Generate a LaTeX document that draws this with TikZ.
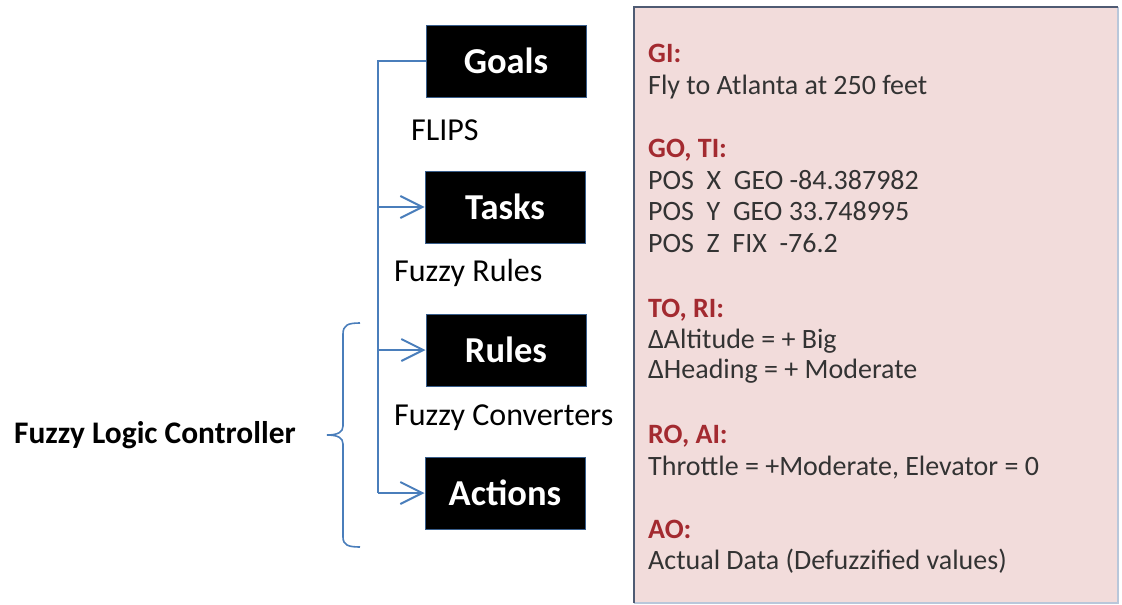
\documentclass[tikz,border=0pt]{standalone}
\usepackage{fontspec}
\setmainfont{Carlito}
\usetikzlibrary{arrows.meta}
\definecolor{flblue}{HTML}{4A7EBB}
\definecolor{boxedge}{HTML}{385D8A}
\definecolor{pinkfill}{HTML}{F2DCDB}
\definecolor{paneledge}{HTML}{4F5B73}
\definecolor{paneledgelight}{HTML}{B9C7DA}
\definecolor{hdred}{HTML}{A32A30}
\definecolor{bodygray}{HTML}{333333}
\tikzset{
  stagebox/.style={fill=black, draw=boxedge, line width=1pt, minimum width=160pt, minimum height=72pt, inner sep=0pt,
    text=white, font=\fontsize{36.5}{42}\selectfont\bfseries},
  plainlbl/.style={anchor=west, inner sep=0pt, font=\fontsize{32}{38}\selectfont},
  flowline/.style={draw=flblue, line width=2pt},
  flowarrow/.style={flowline, -{Straight Barb[length=22pt,width=22pt,line width=2pt]}},
  hdr/.style={anchor=base west, inner sep=0pt, text=hdred, font=\fontsize{28}{32}\selectfont\bfseries},
  bodytxt/.style={anchor=base west, inner sep=0pt, text=bodygray, font=\fontsize{28}{32}\selectfont}
}
\begin{document}
\begin{tikzpicture}[x=1pt,y=-1pt]
\useasboundingbox (0,0) rectangle (1122,605);
% right panel
\fill[pinkfill] (634,7) rectangle (1118,603);
\draw[paneledgelight, line width=1.5pt] (1118,7) -- (1118,603) -- (634,603);
\draw[paneledge, line width=2pt] (634,603) -- (634,7) -- (1118,7);

% stage boxes
\node[stagebox] (goals) at (506,61) {Goals};
\node[stagebox] (tasks) at (505,207) {Tasks};
\node[stagebox] (rules) at (506,350) {Rules};
\node[stagebox] (actions) at (505,493) {Actions};

% labels between boxes
\node[plainlbl] (flips) at (411,130) {FLIPS};
\node[plainlbl] (frules) at (394,273) {Fuzzy Rules};
\node[plainlbl] (fconv) at (394,418) {Fuzzy Converters};
\node[plainlbl, font=\fontsize{31.4}{36}\selectfont\bfseries] (flc) at (14,435) {Fuzzy Logic Controller};

% trunk and arrows
\coordinate (ttop) at (378,61);
\coordinate (jt) at (378,207);
\coordinate (jr) at (378,350);
\coordinate (tbot) at (378,493);
\draw[flowline] (goals.west) -- (ttop) -- (tbot);
\draw[flowarrow] (jt) -- (tasks.west);
\draw[flowarrow] (jr) -- (rules.west);
\draw[flowarrow] (tbot) -- (actions.west);

% brace
\draw[flowline, line width=1.6pt] (360,323) .. controls (348,323) and (343,325) .. (343,334) -- (343,426)
  .. controls (343,432) and (338,435) .. (327,435)
  .. controls (338,435) and (343,438) .. (343,444) -- (343,537)
  .. controls (343,545) and (348,547) .. (360,547);

% panel text
\node[hdr] (gi) at (648,62) {GI:};
\node[bodytxt] (gib) at (648,94) {Fly to Atlanta at 250 feet};
\node[hdr] (goti) at (648,157) {GO, TI:};
\node[bodytxt] (px) at (648,189) {POS\ \ X\ \ GEO -84.387982};
\node[bodytxt] (py) at (648,220) {POS\ \ Y\ \ GEO 33.748995};
\node[bodytxt] (pz) at (648,252) {POS\ \ Z\ \ FIX\ \ -76.2};
\node[hdr] (tori) at (648,317) {TO, RI:};
\node[bodytxt] (alt) at (648,348) {ΔAltitude = + Big};
\node[bodytxt] (hdg) at (648,378) {ΔHeading = + Moderate};
\node[hdr] (roai) at (648,443) {RO, AI:};
\node[bodytxt] (thr) at (648,475) {Throttle = +Moderate, Elevator = 0};
\node[hdr] (ao) at (648,538) {AO:};
\node[bodytxt] (act) at (648,569) {Actual Data (Defuzzified values)};
\end{tikzpicture}
\end{document}
